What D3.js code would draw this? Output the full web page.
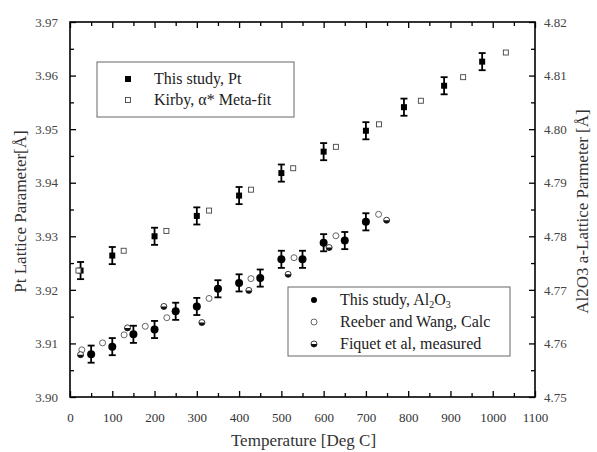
<!DOCTYPE html>
<html>
<head>
  <meta charset="utf-8">
  <script src="https://d3js.org/d3.v7.min.js"></script>
  <style>
    body { margin: 0; background: #fff; }
    svg, svg text { font-family: "Liberation Serif", "Times New Roman", serif !important; }
  </style>
</head>
<body>
<svg id="chart" width="597" height="452"></svg>
<script>
  // Pt lattice parameter (left axis)
  var ptTemp = [25, 100, 200, 300, 400, 500, 600, 700, 790, 885, 975];
  var ptVal  = [3.9236, 3.9264, 3.9300, 3.9338, 3.9376, 3.9418, 3.9458, 3.9497, 3.9541, 3.9581, 3.9626];
  var ptErr  = 0.0016;

  var kirbyTemp = [20, 127, 228, 329, 428, 528, 629, 731, 830, 930, 1031];
  var kirbyVal  = [3.9236, 3.9273, 3.9310, 3.9348, 3.9387, 3.9427, 3.9467, 3.9509, 3.9553, 3.9597, 3.9643];

  // Al2O3 a-lattice parameter (right axis)
  var alTemp = [50, 100, 150, 200, 250, 300, 350, 400, 450, 500, 550, 600, 650, 700];
  var alVal  = [4.7580, 4.7594, 4.7617, 4.7626, 4.7660, 4.7669, 4.7702, 4.7713, 4.7722, 4.7757, 4.7757, 4.7788, 4.7792, 4.7827];
  var alErr  = 0.0016;

  var reeberTemp = [28, 77, 128, 178, 229, 329, 428, 530, 629, 730];
  var reeberVal  = [4.7588, 4.7601, 4.7616, 4.7632, 4.7648, 4.7684, 4.7721, 4.7760, 4.7801, 4.7841];

  var fiquetTemp = [25, 136, 222, 312, 423, 516, 613, 749];
  var fiquetVal  = [4.7579, 4.7629, 4.7669, 4.7639, 4.7699, 4.7729, 4.7779, 4.7830];

  var xTicks  = d3.range(0, 1101, 100);
  var yLTicks = [3.90, 3.91, 3.92, 3.93, 3.94, 3.95, 3.96, 3.97];
  var yRTicks = [4.75, 4.76, 4.77, 4.78, 4.79, 4.80, 4.81, 4.82];

  var FONT = '"Liberation Serif", "Times New Roman", serif';
  var svg = d3.select('#chart').attr('font-family', FONT);
  var L = 70, R = 535, T = 22, B = 397;

  var x  = d3.scaleLinear().domain([0, 1100]).range([L, R]);
  var yL = d3.scaleLinear().domain([3.90, 3.97]).range([B, T]);
  var yR = d3.scaleLinear().domain([4.75, 4.82]).range([B, T]);

  var minorX = d3.range(50, 1100, 100);
  var minorL = yLTicks.slice(0, -1).map(function(v){ return v + 0.005; });
  var minorR = yRTicks.slice(0, -1).map(function(v){ return v + 0.005; });

  function styleAxis(g, labelColor) {
    g.attr('font-family', FONT);
    g.select('.domain').remove();
    g.selectAll('line').attr('stroke', '#000').attr('stroke-width', 1.3);
    g.selectAll('text').attr('fill', labelColor).style('font-size', '13px').style('font-family', FONT);
  }

  // bottom
  svg.append('g').attr('transform', 'translate(0,' + B + ')')
    .call(d3.axisBottom(x).tickValues(xTicks).tickSizeInner(-6).tickSizeOuter(0).tickPadding(16).tickFormat(d3.format('d')))
    .call(styleAxis, '#333');
  svg.append('g').attr('transform', 'translate(0,' + B + ')')
    .call(d3.axisBottom(x).tickValues(minorX).tickSize(-4).tickFormat(''))
    .call(styleAxis, '#333');
  // top
  svg.append('g').attr('transform', 'translate(0,' + T + ')')
    .call(d3.axisTop(x).tickValues(xTicks).tickSize(-6).tickFormat(''))
    .call(styleAxis, '#333');
  svg.append('g').attr('transform', 'translate(0,' + T + ')')
    .call(d3.axisTop(x).tickValues(minorX).tickSize(-4).tickFormat(''))
    .call(styleAxis, '#333');
  // left
  svg.append('g').attr('transform', 'translate(' + L + ',0)')
    .call(d3.axisLeft(yL).tickValues(yLTicks).tickSizeInner(-6).tickSizeOuter(0).tickPadding(12).tickFormat(d3.format('.2f')))
    .call(styleAxis, '#444');
  svg.append('g').attr('transform', 'translate(' + L + ',0)')
    .call(d3.axisLeft(yL).tickValues(minorL).tickSize(-4).tickFormat(''))
    .call(styleAxis, '#444');
  // right
  svg.append('g').attr('transform', 'translate(' + R + ',0)')
    .call(d3.axisRight(yR).tickValues(yRTicks).tickSizeInner(-6).tickSizeOuter(0).tickPadding(9).tickFormat(d3.format('.2f')))
    .call(styleAxis, '#444');
  svg.append('g').attr('transform', 'translate(' + R + ',0)')
    .call(d3.axisRight(yR).tickValues(minorR).tickSize(-4).tickFormat(''))
    .call(styleAxis, '#444');

  // frame
  svg.append('rect').attr('x', L).attr('y', T).attr('width', R - L).attr('height', B - T)
    .attr('fill', 'none').attr('stroke', '#000').attr('stroke-width', 1.6);

  // axis titles
  svg.append('text').attr('transform', 'translate(20,' + ((T + B) / 2 + 2) + ') rotate(-90)')
    .attr('text-anchor', 'middle').attr('dominant-baseline', 'central')
    .attr('fill', '#333').style('font-size', '17px').text('Pt Lattice Parameter[Å]');
  svg.append('text').attr('transform', 'translate(582,' + ((T + B) / 2 + 2) + ') rotate(-90)')
    .attr('text-anchor', 'middle').attr('dominant-baseline', 'central')
    .attr('fill', '#333').style('font-size', '17px').text('Al2O3 a-Lattice Parmeter [Å]');
  svg.append('text').attr('x', (L + R) / 2 + 1).attr('y', 446)
    .attr('text-anchor', 'middle').attr('fill', '#333').style('font-size', '17px')
    .text('Temperature [Deg C]');

  function errorBars(temps, vals, err, y) {
    var g = svg.append('g').attr('stroke', '#000').attr('stroke-width', 1.8);
    temps.forEach(function(t, i) {
      var cx = x(t), y1 = y(vals[i] - err), y2 = y(vals[i] + err);
      g.append('line').attr('x1', cx).attr('x2', cx).attr('y1', y1).attr('y2', y2);
      g.append('line').attr('x1', cx - 3.5).attr('x2', cx + 3.5).attr('y1', y1).attr('y2', y1);
      g.append('line').attr('x1', cx - 3.5).attr('x2', cx + 3.5).attr('y1', y2).attr('y2', y2);
    });
  }

  function halfCircle(g, cx, cy, r) {
    g.append('circle').attr('cx', cx).attr('cy', cy).attr('r', r)
      .attr('fill', '#fff').attr('stroke', '#222').attr('stroke-width', 0.9);
    g.append('path')
      .attr('d', 'M' + (cx - r) + ',' + cy + ' A' + r + ',' + r + ' 0 0 0 ' + (cx + r) + ',' + cy + ' Z')
      .attr('fill', '#111');
  }

  // Pt
  errorBars(ptTemp, ptVal, ptErr, yL);
  svg.append('g').selectAll('rect').data(ptTemp).join('rect')
    .attr('x', function(d){ return x(d) - 3; })
    .attr('y', function(d, i){ return yL(ptVal[i]) - 3; })
    .attr('width', 6).attr('height', 6).attr('fill', '#000');

  svg.append('g').selectAll('rect').data(kirbyTemp).join('rect')
    .attr('x', function(d){ return x(d) - 2.5; })
    .attr('y', function(d, i){ return yL(kirbyVal[i]) - 2.5; })
    .attr('width', 5).attr('height', 5)
    .attr('fill', '#fff').attr('stroke', '#444').attr('stroke-width', 0.9);

  // Al2O3
  errorBars(alTemp, alVal, alErr, yR);
  svg.append('g').selectAll('circle').data(alTemp).join('circle')
    .attr('cx', function(d){ return x(d); })
    .attr('cy', function(d, i){ return yR(alVal[i]); })
    .attr('r', 4).attr('fill', '#000');

  svg.append('g').selectAll('circle').data(reeberTemp).join('circle')
    .attr('cx', function(d){ return x(d); })
    .attr('cy', function(d, i){ return yR(reeberVal[i]); })
    .attr('r', 3).attr('fill', '#fff').attr('stroke', '#555').attr('stroke-width', 0.9);

  var fg = svg.append('g');
  fiquetTemp.forEach(function(t, i){ halfCircle(fg, x(t), yR(fiquetVal[i]), 3); });

  // legend 1
  var lg1 = svg.append('g');
  lg1.append('rect').attr('x', 97).attr('y', 62).attr('width', 197).attr('height', 55)
    .attr('fill', '#fff').attr('stroke', '#666').attr('stroke-width', 1);
  lg1.append('rect').attr('x', 125).attr('y', 76).attr('width', 6).attr('height', 6).attr('fill', '#000');
  lg1.append('rect').attr('x', 125.5).attr('y', 97.5).attr('width', 5).attr('height', 5)
    .attr('fill', '#fff').attr('stroke', '#444').attr('stroke-width', 0.9);
  lg1.append('text').attr('x', 154).attr('y', 84).attr('fill', '#222').style('font-size', '16px').text('This study, Pt');
  lg1.append('text').attr('x', 154).attr('y', 105).attr('fill', '#222').style('font-size', '16px').text('Kirby, α* Meta-fit');

  // legend 2
  var lg2 = svg.append('g');
  lg2.append('rect').attr('x', 288).attr('y', 287).attr('width', 222).attr('height', 69)
    .attr('fill', '#fff').attr('stroke', '#666').attr('stroke-width', 1);
  lg2.append('circle').attr('cx', 314).attr('cy', 300).attr('r', 3).attr('fill', '#000');
  lg2.append('circle').attr('cx', 314).attr('cy', 322).attr('r', 3)
    .attr('fill', '#fff').attr('stroke', '#555').attr('stroke-width', 0.9);
  halfCircle(lg2, 314, 344, 3);
  var t1 = lg2.append('text').attr('x', 340).attr('y', 305).attr('fill', '#222').style('font-size', '16px');
  t1.append('tspan').text('This study, Al');
  t1.append('tspan').attr('dy', 3).style('font-size', '10px').text('2');
  t1.append('tspan').attr('dy', -3).text('O');
  t1.append('tspan').attr('dy', 3).style('font-size', '10px').text('3');
  lg2.append('text').attr('x', 340).attr('y', 327).attr('fill', '#222').style('font-size', '16px').text('Reeber and Wang, Calc');
  lg2.append('text').attr('x', 340).attr('y', 349).attr('fill', '#222').style('font-size', '16px').text('Fiquet et al, measured');
</script>
</body>
</html>
